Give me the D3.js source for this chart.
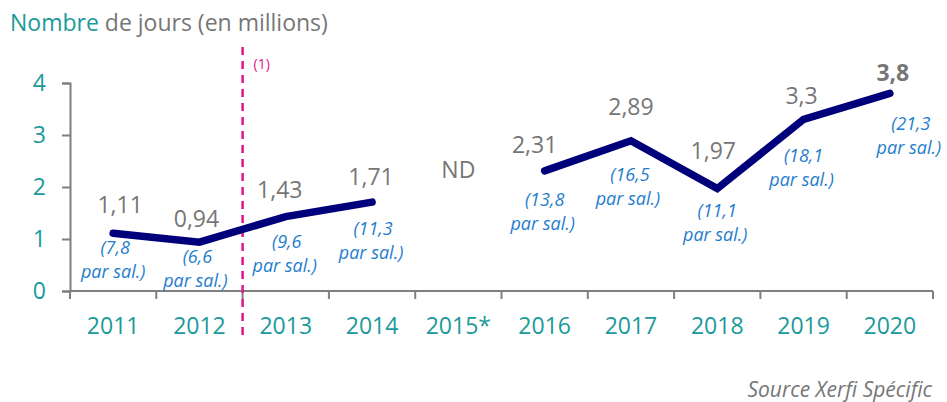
<!DOCTYPE html>
<html>
<head>
<meta charset="utf-8">
<script src="https://cdn.jsdelivr.net/npm/d3@7/dist/d3.min.js"></script>
<style>
  html, body { margin: 0; padding: 0; background: #fff; }
  svg { display: block; }
  text { font-family: "Open Sans", "Noto Sans", sans-serif; }
</style>
</head>
<body>
<svg id="chart" width="947" height="402"></svg>
<script>
// Jours d'absence (en millions) et jours par salarié
const years = ["2011", "2012", "2013", "2014", "2015*", "2016", "2017", "2018", "2019", "2020"];
const days = [1.11, 0.94, 1.43, 1.71, null, 2.31, 2.89, 1.97, 3.3, 3.8];
const perEmployee = ["7,8", "6,6", "9,6", "11,3", null, "13,8", "16,5", "11,1", "18,1", "21,3"];
const yTicks = [0, 1, 2, 3, 4];
const breakAfter = "2012";

// label offsets relative to each point: [value dx, value dy, note dx, note dy]
const labelOffsets = [
  [7, -28, 2, 14], [-3, -23, -2, 14], [-6, -27, 1, 24], [-1, -25, 1, 26], [0, 0, 0, 0],
  [-10, -26, 0, 28], [0, -34, -1, 33], [-4, -38, 0, 21], [-2, -23, 0, 36], [3, -20, 21, 30]
];

const svg = d3.select("#chart");
const margin = { left: 70, right: 14, top: 83, bottom: 111 };
const W = 947, H = 402;

const x = d3.scaleBand().domain(years).range([margin.left, W - margin.right]).padding(0);
const y = d3.scaleLinear().domain([0, 4]).range([H - margin.bottom, margin.top]);

const fmt = v => String(v).replace(".", ",");
const cx = d => x(d) + x.bandwidth() / 2;

// Title
const title = svg.append("text").attr("x", 10).attr("y", 31).attr("font-size", 23);
title.append("tspan").attr("fill", "#1a9a9a").text("Nombre");
title.append("tspan").attr("fill", "#767676").text(" de jours (en millions)");

// Y axis
const yAxis = svg.append("g")
  .attr("transform", `translate(${margin.left},0)`)
  .call(d3.axisLeft(y).tickValues(yTicks).tickSize(8).tickPadding(16).tickFormat(d3.format("d")));
yAxis.select(".domain").attr("stroke", "#7f7f7f").attr("stroke-width", 2);
yAxis.selectAll(".tick line").attr("stroke", "#7f7f7f").attr("stroke-width", 2);
yAxis.selectAll(".tick text").attr("fill", "#1a9a9a").attr("font-size", 23)
  .attr("font-family", "'Open Sans', sans-serif");

// X axis: ticks at band boundaries
const boundaries = years.map(d => x(d)).concat([x.range()[1]]);
const xAxis = svg.append("g").attr("transform", `translate(0,${y(0)})`);
xAxis.append("line")
  .attr("x1", x.range()[0]).attr("x2", x.range()[1])
  .attr("stroke", "#7f7f7f").attr("stroke-width", 2);
xAxis.selectAll("line.tk").data(boundaries).join("line").attr("class", "tk")
  .attr("x1", d => d).attr("x2", d => d).attr("y1", 0).attr("y2", 8)
  .attr("stroke", "#7f7f7f").attr("stroke-width", 2);
xAxis.selectAll("text").data(years).join("text")
  .attr("x", d => cx(d)).attr("y", 43)
  .attr("text-anchor", "middle").attr("font-size", 23).attr("fill", "#1a9a9a")
  .text(d => d);

// Methodology break
const bx = x(breakAfter) + x.bandwidth();
svg.append("line")
  .attr("x1", bx).attr("x2", bx).attr("y1", 47).attr("y2", 340)
  .attr("stroke", "#e0148c").attr("stroke-width", 2.5).attr("stroke-dasharray", "8,6");
svg.append("text").attr("x", bx + 11).attr("y", 69)
  .attr("font-size", 14).attr("fill", "#e0148c").text("(1)");

// Line series (gap where data is missing)
const pts = years.map((yr, i) => ({ yr, v: days[i], note: perEmployee[i], off: labelOffsets[i], i }));
const line = d3.line().defined(d => d.v != null).x(d => cx(d.yr)).y(d => y(d.v));
svg.append("path").datum(pts).attr("d", line)
  .attr("fill", "none").attr("stroke", "#00007a").attr("stroke-width", 7.5)
  .attr("stroke-linejoin", "miter").attr("stroke-linecap", "round");

// Value labels
const last = years.length - 1;
svg.selectAll("text.val").data(pts).join("text").attr("class", "val")
  .attr("x", d => cx(d.yr) + d.off[0])
  .attr("y", d => d.v == null ? 178 : y(d.v) + d.off[1] + 8)
  .attr("text-anchor", "middle").attr("font-size", 23)
  .attr("fill", "#767676").attr("font-weight", d => d.i === last ? "bold" : "normal")
  .text(d => d.v == null ? "ND" : fmt(d.v));

// Per-employee notes
const notes = svg.selectAll("text.note").data(pts.filter(d => d.note)).join("text").attr("class", "note")
  .attr("text-anchor", "middle").attr("font-size", 18).attr("font-style", "italic")
  .attr("fill", "#1f7dcc");
notes.append("tspan")
  .attr("x", d => cx(d.yr) + d.off[2])
  .attr("y", d => y(d.v) + d.off[3] + 7)
  .text(d => `(${d.note}`);
notes.append("tspan")
  .attr("x", d => cx(d.yr) + d.off[2] - 2)
  .attr("dy", 24)
  .text("par sal.)");

// Source
svg.append("text").attr("x", 932).attr("y", 397).attr("text-anchor", "end")
  .attr("font-size", 21).attr("font-style", "italic").attr("fill", "#767676")
  .text("Source Xerfi Spécific");
</script>
</body>
</html>
